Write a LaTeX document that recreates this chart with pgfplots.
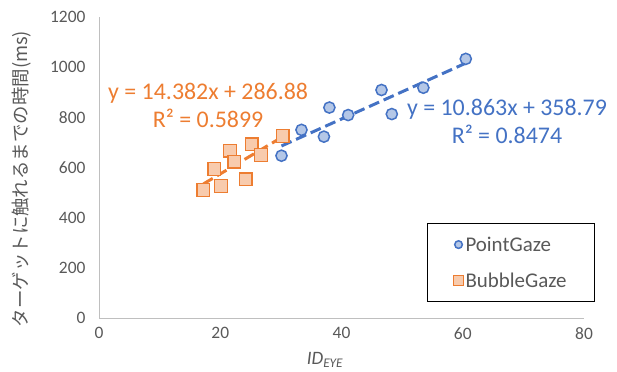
\documentclass[border=0pt]{standalone}
\usepackage{pgfplots}
\pgfplotsset{compat=1.18}
\usepackage{fontspec}
\setmainfont{Carlito}
\newfontfamily\jp{Noto Sans CJK JP}
\definecolor{tickgray}{HTML}{595959}
\definecolor{axisgray}{HTML}{BFBFBF}
\definecolor{blueE}{HTML}{4472C4}
\definecolor{blueF}{HTML}{B4C7E7}
\definecolor{orangeE}{HTML}{ED7D31}
\definecolor{orangeF}{HTML}{F8CBAD}
\pgfplotstableread{
x y
30.1 647
33.4 750
37.1 723
38.0 839
41.1 809
46.6 909
48.3 813
53.5 918
60.5 1033
}\pointgaze
\pgfplotstableread{
x y
17.2 510
20.1 526
19.0 594
21.6 667
22.3 623
24.2 553
25.2 693
26.7 650
30.3 726
}\bubblegaze
\begin{document}
\begin{tikzpicture}
\useasboundingbox (0,0) rectangle (617bp,372bp);
\begin{axis}[
  at={(99bp,54bp)}, anchor=south west,
  scale only axis, width=485bp, height=301bp,
  xmin=0, xmax=80, ymin=0, ymax=1200,
  xtick={0,20,...,80}, ytick={0,200,...,1200},
  axis x line*=bottom, axis y line*=left,
  axis line style={draw=axisgray, line width=1bp},
  major tick length=0pt,
  clip=false,
  tick label style={font=\fontsize{17.5}{20}\selectfont, text=tickgray},
  /pgf/number format/assume math mode=true,
  /pgf/number format/1000 sep={},
  xticklabel style={yshift=-6bp},
  yticklabel style={xshift=-10bp},
  xlabel={\textit{ID\textsubscript{EYE}}},
  xlabel style={at={(rel axis cs:0.466,-0.156)}, anchor=base, font=\fontsize{19}{22}\selectfont, text=tickgray},
  ylabel={\jp ターゲットに触れるまでの時間(ms)},
  ylabel style={at={(rel axis cs:-0.159,0.462)}, anchor=center, font=\fontsize{18.5}{20}\selectfont, text=tickgray},
  legend image code/.code={\draw[mark repeat=2,mark phase=2,#1] plot coordinates {(0bp,0bp)(5bp,0bp)(10bp,0bp)};},
  legend cell align=left,
  legend style={at={(rel axis cs:1.0227,0.053)}, anchor=south east, draw=black, line width=1bp,
    font=\fontsize{21}{25}\selectfont, text=tickgray, inner xsep=26bp, inner ysep=11bp, row sep=16bp},
]
\addplot[only marks, mark=*, mark size=5.6bp, mark options={draw=blueE, fill=blueF, line width=1.5bp},
  legend image post style={mark size=3.8bp}] table {\pointgaze};
\addlegendentry{PointGaze}
\addplot[only marks, mark=square*, mark size=6.4bp, mark options={draw=orangeE, fill=orangeF, line width=1.5bp},
  legend image post style={mark size=5bp}] table {\bubblegaze};
\addlegendentry{BubbleGaze}
\addplot[forget plot, blueE, line width=3bp, dash pattern=on 11bp off 5bp] coordinates {(30.1,685.8) (60.5,1016.0)};
\addplot[forget plot, orangeE, line width=3bp, dash pattern=on 11bp off 5bp] coordinates {(17.2,534.2) (30.3,722.6)};
\node[anchor=base, text=orangeE, font=\fontsize{24}{28}\selectfont] at (axis cs:18.0,871) {y = 14.382x + 286.88};
\node[anchor=base, text=orangeE, font=\fontsize{24}{28}\selectfont] at (axis cs:18.0,760) {R² = 0.5899};
\node[anchor=base, text=blueE, font=\fontsize{24}{28}\selectfont] at (axis cs:67.3,809) {y = 10.863x + 358.79};
\node[anchor=base, text=blueE, font=\fontsize{24}{28}\selectfont] at (axis cs:67.3,694) {R² = 0.8474};
\end{axis}
\end{tikzpicture}
\end{document}
